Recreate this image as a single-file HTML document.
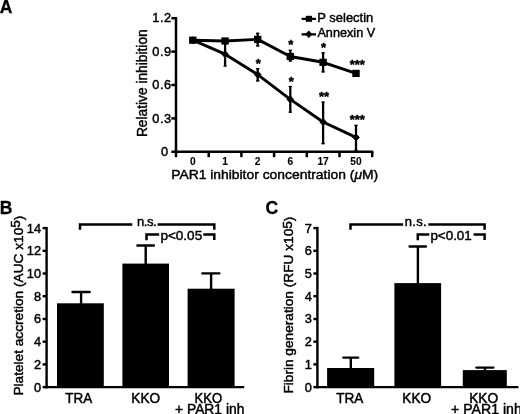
<!DOCTYPE html>
<html lang="en"><head><meta charset="utf-8"><title>Figure</title>
<style>html,body{margin:0;padding:0;background:#fff;}body{width:520px;height:414px;overflow:hidden;}svg{display:block;filter:blur(0.35px);}text{font-family:"Liberation Sans", Arial, Helvetica, sans-serif;fill:#000;stroke:#000;stroke-width:0.45px;stroke-linejoin:round;}</style>
</head><body>
<svg width="520" height="414" viewBox="0 0 520 414">
<rect width="520" height="414" fill="#fff"/>
<g id="panelA">
<text x="-0.3" y="12.8" font-size="17.5" font-weight="bold" style="stroke-width:0.3px">A</text>
<g stroke="#000" stroke-width="2.5" fill="none" stroke-linecap="butt">
<path d="M176.0 17.0 V153.0"/>
<path d="M174.8 151.8 H373.4"/>
<path d="M171.3 151.8 H176.0"/>
<path d="M171.3 118.4 H176.0"/>
<path d="M171.3 85.0 H176.0"/>
<path d="M171.3 51.6 H176.0"/>
<path d="M171.3 18.2 H176.0"/>
<path d="M176.0 151.8 V157.2"/>
<path d="M208.7 151.8 V157.2"/>
<path d="M241.4 151.8 V157.2"/>
<path d="M274.1 151.8 V157.2"/>
<path d="M306.8 151.8 V157.2"/>
<path d="M339.5 151.8 V157.2"/>
<path d="M372.2 151.8 V157.2"/>
</g>
<text x="168.9" y="155.9" font-size="12.8" letter-spacing="0.65" text-anchor="end">0</text>
<text x="171.9" y="122.5" font-size="12.8" letter-spacing="0.65" text-anchor="end">0.3</text>
<text x="171.9" y="89.1" font-size="12.8" letter-spacing="0.65" text-anchor="end">0.6</text>
<text x="171.9" y="55.7" font-size="12.8" letter-spacing="0.65" text-anchor="end">0.9</text>
<text x="171.9" y="22.3" font-size="12.8" letter-spacing="0.65" text-anchor="end">1.2</text>
<text x="192.8" y="164.8" font-size="10.2" font-weight="bold" style="stroke-width:0.1px" text-anchor="middle">0</text>
<text x="225.1" y="164.8" font-size="10.2" font-weight="bold" style="stroke-width:0.1px" text-anchor="middle">1</text>
<text x="257.7" y="164.8" font-size="10.2" font-weight="bold" style="stroke-width:0.1px" text-anchor="middle">2</text>
<text x="290.3" y="164.8" font-size="10.2" font-weight="bold" style="stroke-width:0.1px" text-anchor="middle">6</text>
<text x="323.1" y="164.8" font-size="10.2" font-weight="bold" style="stroke-width:0.1px" text-anchor="middle">17</text>
<text x="356.0" y="164.8" font-size="10.2" font-weight="bold" style="stroke-width:0.1px" text-anchor="middle">50</text>
<text x="171.2" y="179.4" font-size="13.6" textLength="207" lengthAdjust="spacingAndGlyphs">PAR1 inhibitor concentration (<tspan font-style="italic">μ</tspan>M)</text>
<text transform="translate(147.4 137.1) rotate(-90)" font-size="13.8" textLength="107.8" lengthAdjust="spacingAndGlyphs">Relative inhibition</text>
<g stroke="#000" stroke-width="2.3" fill="none">
<path d="M257.7 32.7 V46.5"/>
<path d="M290.3 49.7 V61.6"/>
<path d="M323.1 52.3 V72.4"/>
<path d="M225.1 42.7 V66.6"/>
<path d="M257.7 68.0 V81.4"/>
<path d="M290.3 85.9 V112.8"/>
<path d="M323.1 101.5 V144.2"/>
<path d="M356.0 124.8 V151.0"/>
</g>
<g stroke="#000" stroke-width="1.2" fill="none">
<path d="M256.0 33.3 h3.4 M256.0 45.9 h3.4"/>
<path d="M288.6 50.3 h3.4 M288.6 61.0 h3.4"/>
<path d="M321.4 52.9 h3.4 M321.4 71.8 h3.4"/>
<path d="M223.4 43.3 h3.4 M223.4 66.0 h3.4"/>
<path d="M256.0 68.6 h3.4 M256.0 80.8 h3.4"/>
<path d="M288.6 86.5 h3.4 M288.6 112.2 h3.4"/>
<path d="M321.4 102.1 h3.4 M321.4 143.6 h3.4"/>
<path d="M354.3 125.4 h3.4 M354.3 150.4 h3.4"/>
</g>
<g stroke="#000" stroke-width="2.9" fill="none" stroke-linejoin="round">
<polyline points="192.8,40.2 225.1,41.0 257.7,39.4 290.3,56.5 323.1,62.3 356.0,73.4"/>
<polyline points="192.8,40.2 225.1,54.2 257.7,74.6 290.3,99.4 323.1,122.0 356.0,137.4"/>
</g>
<rect x="189.1" y="36.6" width="7.4" height="7.2"/>
<rect x="221.4" y="37.4" width="7.4" height="7.2"/>
<rect x="254.0" y="35.8" width="7.4" height="7.2"/>
<rect x="286.6" y="52.9" width="7.4" height="7.2"/>
<rect x="319.4" y="58.7" width="7.4" height="7.2"/>
<rect x="352.3" y="69.8" width="7.4" height="7.2"/>
<path d="M192.8 36.7 l3.3 3.5 l-3.3 3.5 l-3.3 -3.5z" stroke="#000" stroke-width="1" stroke-linejoin="round"/>
<path d="M225.1 50.7 l3.3 3.5 l-3.3 3.5 l-3.3 -3.5z" stroke="#000" stroke-width="1" stroke-linejoin="round"/>
<path d="M257.7 71.1 l3.3 3.5 l-3.3 3.5 l-3.3 -3.5z" stroke="#000" stroke-width="1" stroke-linejoin="round"/>
<path d="M290.3 95.9 l3.3 3.5 l-3.3 3.5 l-3.3 -3.5z" stroke="#000" stroke-width="1" stroke-linejoin="round"/>
<path d="M323.1 118.5 l3.3 3.5 l-3.3 3.5 l-3.3 -3.5z" stroke="#000" stroke-width="1" stroke-linejoin="round"/>
<path d="M356.0 133.9 l3.3 3.5 l-3.3 3.5 l-3.3 -3.5z" stroke="#000" stroke-width="1" stroke-linejoin="round"/>
<path d="M301.6 18.8 H316 M301.6 34.3 H316" stroke="#000" stroke-width="2.2"/>
<rect x="305.8" y="15.8" width="6.2" height="6"/>
<path d="M308.8 30.6 l3.7 3.7 l-3.7 3.7 l-3.7 -3.7z"/>
<text x="317.3" y="21.8" font-size="13.6" textLength="56" lengthAdjust="spacingAndGlyphs">P selectin</text>
<text x="317.4" y="37.0" font-size="13.6" textLength="57.8" lengthAdjust="spacingAndGlyphs">Annexin V</text>
<text x="290.8" y="48.9" font-size="13" font-weight="bold" text-anchor="middle">*</text>
<text x="323.6" y="51.6" font-size="13" font-weight="bold" text-anchor="middle">*</text>
<text x="357.3" y="68.8" font-size="13" font-weight="bold" text-anchor="middle">***</text>
<text x="258.2" y="67.6" font-size="13" font-weight="bold" text-anchor="middle">*</text>
<text x="291.2" y="85.6" font-size="13" font-weight="bold" text-anchor="middle">*</text>
<text x="324.0" y="101.0" font-size="13" font-weight="bold" text-anchor="middle">**</text>
<text x="357.3" y="124.0" font-size="13" font-weight="bold" text-anchor="middle">***</text>
</g>
<g id="panelB">
<text x="-0.3" y="214.1" font-size="17.5" font-weight="bold" style="stroke-width:0.3px">B</text>
<g stroke="#000" stroke-width="2.4" fill="none">
<path d="M46.6 226.9 V388.3"/>
<path d="M45.4 387.1 H244.2"/>
<path d="M42.6 387.1 H46.6"/>
<path d="M42.6 364.4 H46.6"/>
<path d="M42.6 341.7 H46.6"/>
<path d="M42.6 319.0 H46.6"/>
<path d="M42.6 296.2 H46.6"/>
<path d="M42.6 273.5 H46.6"/>
<path d="M42.6 250.8 H46.6"/>
<path d="M42.6 228.1 H46.6"/>
</g>
<text x="41.0" y="391.5" font-size="12.8" text-anchor="end">0</text>
<text x="41.0" y="368.8" font-size="12.8" text-anchor="end">2</text>
<text x="41.0" y="346.1" font-size="12.8" text-anchor="end">4</text>
<text x="41.0" y="323.4" font-size="12.8" text-anchor="end">6</text>
<text x="41.0" y="300.6" font-size="12.8" text-anchor="end">8</text>
<text x="41.0" y="277.9" font-size="12.8" text-anchor="end">10</text>
<text x="41.0" y="255.2" font-size="12.8" text-anchor="end">12</text>
<text x="41.0" y="232.5" font-size="12.8" text-anchor="end">14</text>
<text transform="translate(22.8 395.6) rotate(-90)" font-size="13.6" textLength="180.0" lengthAdjust="spacingAndGlyphs">Platelet accretion (AUC x10<tspan dy="-2.7">5</tspan><tspan dy="2.7">)</tspan></text>
<rect x="57.0" y="303.3" width="46.8" height="83.8"/>
<path d="M81.1 304.3 V292.0 M72.5 292.0 H89.7" stroke="#000" stroke-width="2.4" stroke-linecap="round" fill="none"/>
<rect x="122.4" y="263.6" width="46.6" height="123.5"/>
<path d="M145.7 264.6 V245.5 M137.4 245.5 H153.9" stroke="#000" stroke-width="2.4" stroke-linecap="round" fill="none"/>
<rect x="187.6" y="288.7" width="47.0" height="98.4"/>
<path d="M211.1 289.7 V273.4 M202.4 273.4 H219.3" stroke="#000" stroke-width="2.4" stroke-linecap="round" fill="none"/>
<g stroke="#000" stroke-width="2.5" fill="none">
<path d="M80.0 229.8 V224.6 H132.3 M157.6 224.6 H214.3 V229.8"/>
<path d="M146.5 240.3 V234.4 H159.2 M203.3 234.4 H214.3 V240"/>
</g>
<text x="137.1" y="226.4" font-size="13" textLength="19.4" lengthAdjust="spacing">n.s.</text>
<text x="160.4" y="239.5" font-size="13.3" textLength="41.8" lengthAdjust="spacingAndGlyphs">p&lt;0.05</text>
<text x="65.2" y="402.7" font-size="13.8" textLength="27.0" lengthAdjust="spacingAndGlyphs">TRA</text>
<text x="131.3" y="402.7" font-size="13.8" textLength="28.8" lengthAdjust="spacingAndGlyphs">KKO</text>
<text x="194.6" y="402.7" font-size="13.8" textLength="27.6" lengthAdjust="spacingAndGlyphs">KKO</text>
<text x="175.0" y="414.0" font-size="13.8" textLength="69.4" lengthAdjust="spacingAndGlyphs">+ PAR1 inh</text>
</g>
<g id="panelC">
<text x="265.6" y="214.1" font-size="17.5" font-weight="bold" style="stroke-width:0.3px">C</text>
<g stroke="#000" stroke-width="2.4" fill="none">
<path d="M317.4 226.9 V388.3"/>
<path d="M316.2 387.1 H518.4"/>
<path d="M313.4 387.1 H317.4"/>
<path d="M313.4 364.4 H317.4"/>
<path d="M313.4 341.7 H317.4"/>
<path d="M313.4 319.0 H317.4"/>
<path d="M313.4 296.2 H317.4"/>
<path d="M313.4 273.5 H317.4"/>
<path d="M313.4 250.8 H317.4"/>
<path d="M313.4 228.1 H317.4"/>
</g>
<text x="311.8" y="391.5" font-size="12.8" text-anchor="end">0</text>
<text x="311.8" y="368.8" font-size="12.8" text-anchor="end">1</text>
<text x="311.8" y="346.1" font-size="12.8" text-anchor="end">2</text>
<text x="311.8" y="323.4" font-size="12.8" text-anchor="end">3</text>
<text x="311.8" y="300.6" font-size="12.8" text-anchor="end">4</text>
<text x="311.8" y="277.9" font-size="12.8" text-anchor="end">5</text>
<text x="311.8" y="255.2" font-size="12.8" text-anchor="end">6</text>
<text x="311.8" y="232.5" font-size="12.8" text-anchor="end">7</text>
<text transform="translate(293.3 393.6) rotate(-90)" font-size="13.6" textLength="177.0" lengthAdjust="spacingAndGlyphs">Fibrin generation (RFU x10<tspan dy="-1.8">5</tspan><tspan dy="1.8">)</tspan></text>
<rect x="327.1" y="368.0" width="47.1" height="19.1"/>
<path d="M350.8 369.0 V357.6 M343.4 357.6 H358.2" stroke="#000" stroke-width="2.4" stroke-linecap="round" fill="none"/>
<rect x="394.4" y="283.1" width="46.7" height="104.0"/>
<path d="M417.9 284.1 V246.5 M409.6 246.5 H425.9" stroke="#000" stroke-width="2.4" stroke-linecap="round" fill="none"/>
<rect x="462.8" y="370.1" width="44.0" height="17.0"/>
<path d="M484.9 371.1 V367.6 M476.4 367.6 H493.4" stroke="#000" stroke-width="2.4" stroke-linecap="round" fill="none"/>
<g stroke="#000" stroke-width="2.5" fill="none">
<path d="M350.5 229.8 V224.6 H403.1 M428.4 224.6 H484.6 V229.8"/>
<path d="M417.8 240.3 V234.4 H429.3 M473.6 234.4 H484.6 V240"/>
</g>
<text x="404.8" y="226.4" font-size="13" textLength="21.8" lengthAdjust="spacing">n.s.</text>
<text x="430.4" y="239.5" font-size="13.3" textLength="41.4" lengthAdjust="spacingAndGlyphs">p&lt;0.01</text>
<text x="336.2" y="402.7" font-size="13.8" textLength="27.2" lengthAdjust="spacingAndGlyphs">TRA</text>
<text x="402.3" y="402.7" font-size="13.8" textLength="28.8" lengthAdjust="spacingAndGlyphs">KKO</text>
<text x="469.2" y="402.7" font-size="13.8" textLength="29.0" lengthAdjust="spacingAndGlyphs">KKO</text>
<text x="451.0" y="414.0" font-size="13.8" textLength="70.8" lengthAdjust="spacingAndGlyphs">+ PAR1 inh</text>
</g>
</svg>
</body></html>
